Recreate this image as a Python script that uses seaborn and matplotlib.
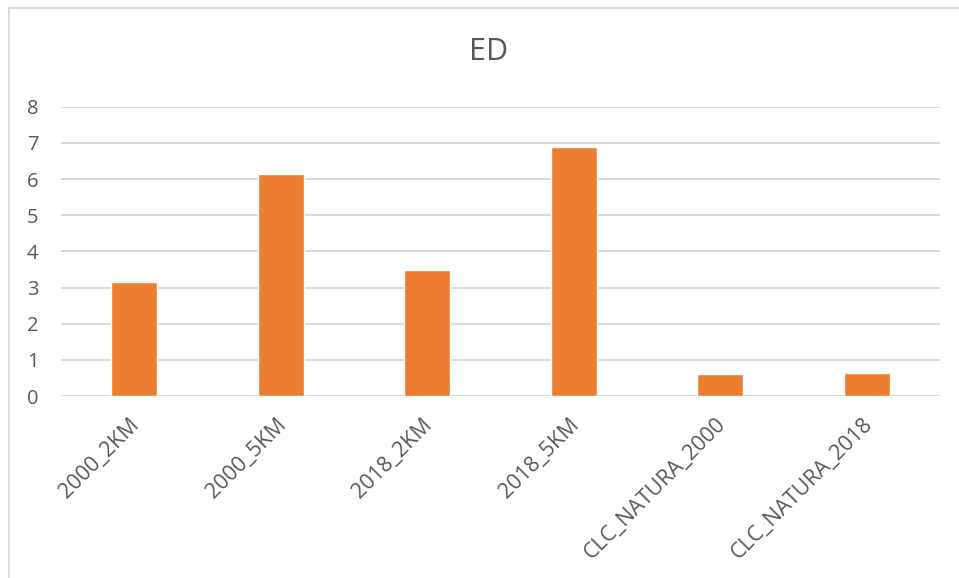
import matplotlib
matplotlib.use("Agg")
import matplotlib.pyplot as plt
import matplotlib.transforms as mtransforms
import seaborn as sns
import pandas as pd
from matplotlib.patches import Rectangle

categories = ["2000_2KM", "2000_5KM", "2018_2KM", "2018_5KM", "CLC_NATURA_2000", "CLC_NATURA_2018"]
values = [3.14, 6.13, 3.48, 6.88, 0.60, 0.645]
title = "ED"
yticks = [0, 1, 2, 3, 4, 5, 6, 7, 8]

df = pd.DataFrame({"cat": categories, "val": values})

sns.set_theme(style="white")
plt.rcParams['font.family'] = ['Open Sans', 'DejaVu Sans']

W, H = 959, 578
fig = plt.figure(figsize=(W / 100, H / 100), dpi=100)
ax = fig.add_axes([60.7 / W, 1 - 396 / H, (940 - 60.7) / W, (396 - 106.7) / H])

sns.barplot(data=df, x="cat", y="val", color="#ED7D31", width=0.314,
            saturation=1, ax=ax, zorder=3)

ax.set_ylim(0, 8)
ax.set_xlim(-0.5, len(categories) - 0.5)
ax.set_yticks(yticks)
ax.set_yticklabels([str(t) for t in yticks])
ax.set_xlabel("")
ax.set_ylabel("")
for t in yticks:
    ax.axhline(t, color="#d9d9d9", lw=1.4, zorder=1)
for s in ax.spines.values():
    s.set_visible(False)
ax.tick_params(axis="both", length=0, colors="#595959", labelsize=14.5)
ax.tick_params(axis="x", labelsize=15.5, pad=13)
ax.tick_params(axis="y", pad=16)
plt.setp(ax.get_xticklabels(), rotation=45, ha="right", rotation_mode="anchor")
shift = mtransforms.ScaledTranslation(-5 / 100, 0, fig.dpi_scale_trans)
for lbl in ax.get_xticklabels():
    lbl.set_transform(lbl.get_transform() + shift)

fig.text(489 / W, 1 - 52 / H, title, ha="center", va="center", fontsize=22, color="#595959")

rect = Rectangle((8.5 / W, -0.1), 1.2, 1 - 8.5 / H + 0.1, transform=fig.transFigure,
                 fill=False, edgecolor="#d9d9d9", lw=1.3)
fig.patches.append(rect)

fig.savefig("out.png", dpi=100, facecolor="white")
